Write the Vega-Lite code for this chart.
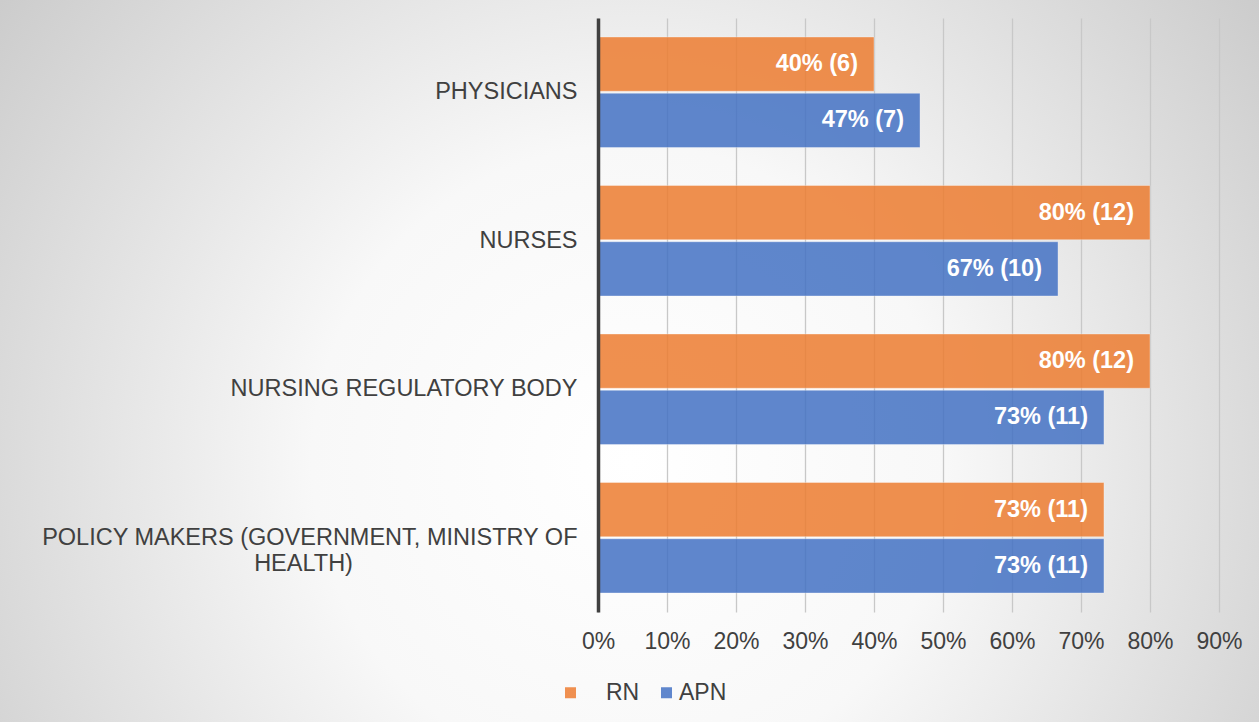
{
  "$schema": "https://vega.github.io/schema/vega-lite/v6.json",
  "width": 1259,
  "height": 722,
  "autosize": {"type": "none"},
  "padding": 0,
  "background": "#e4e4e4",
  "config": {
    "font": "Liberation Sans",
    "view": {
      "stroke": null,
      "fill": {
        "gradient": "radial",
        "x1": 0.5, "y1": 0.58, "r1": 0,
        "x2": 0.5, "y2": 0.58, "r2": 0.72,
        "stops": [
          {"offset": 0, "color": "#ffffff"},
          {"offset": 0.35, "color": "#f8f8f8"},
          {"offset": 1, "color": "#c0c0c0"}
        ]
      }
    }
  },
  "data": {
    "values": [
      {"group": "PHYSICIANS", "series": "RN", "pct": 0.4, "n": 6, "label": "40% (6)"},
      {"group": "PHYSICIANS", "series": "APN", "pct": 0.4667, "n": 7, "label": "47% (7)"},
      {"group": "NURSES", "series": "RN", "pct": 0.8, "n": 12, "label": "80% (12)"},
      {"group": "NURSES", "series": "APN", "pct": 0.6667, "n": 10, "label": "67% (10)"},
      {"group": "NURSING REGULATORY BODY", "series": "RN", "pct": 0.8, "n": 12, "label": "80% (12)"},
      {"group": "NURSING REGULATORY BODY", "series": "APN", "pct": 0.7333, "n": 11, "label": "73% (11)"},
      {"group": "POLICY MAKERS (GOVERNMENT, MINISTRY OF HEALTH)", "series": "RN", "pct": 0.7333, "n": 11, "label": "73% (11)"},
      {"group": "POLICY MAKERS (GOVERNMENT, MINISTRY OF HEALTH)", "series": "APN", "pct": 0.7333, "n": 11, "label": "73% (11)"}
    ]
  },
  "encoding": {
    "y": {
      "field": "group",
      "type": "nominal",
      "sort": null,
      "scale": {"range": [18, 612], "paddingInner": 0.256, "paddingOuter": 0.128},
      "axis": {
        "orient": "left",
        "offset": -598,
        "title": null,
        "grid": false,
        "domain": true,
        "domainColor": "#404040",
        "domainWidth": 3.5,
        "ticks": false,
        "tickSize": 0,
        "labelPadding": 21,
        "labelFontSize": 23.5,
        "labelColor": "#404040",
        "labelLimit": 700,
        "labelLineHeight": 26,
        "labelAlign": "right",
        "zindex": 1,
        "labelExpr": "datum.value == 'POLICY MAKERS (GOVERNMENT, MINISTRY OF HEALTH)' ? ['POLICY MAKERS (GOVERNMENT, MINISTRY OF', 'HEALTH)\u2003\u2003\u2003\u2003\u2003\u2003\u2003\u2003\u2003\u00a0\u00a0\u200b'] : datum.value"
      }
    },
    "yOffset": {
      "field": "series",
      "type": "nominal",
      "scale": {"domain": ["RN", "APN"], "paddingInner": 0.036}
    },
    "x": {
      "field": "pct",
      "type": "quantitative",
      "scale": {"domain": [0, 0.9], "range": [598, 1219], "nice": false, "zero": true},
      "axis": {
        "orient": "top",
        "offset": 0,
        "title": null,
        "grid": true,
        "gridColor": "#c8c8c8",
        "gridWidth": 1.3,
        "domain": false,
        "ticks": false,
        "tickSize": 0,
        "labelPadding": -630,
        "labelBaseline": "top",
        "values": [0, 0.1, 0.2, 0.3, 0.4, 0.5, 0.6, 0.7, 0.8, 0.9],
        "format": ".0%",
        "labelFontSize": 23,
        "labelColor": "#404040",
        "labelFlush": false,
        "labelOverlap": false
      }
    }
  },
  "layer": [
    {
      "mark": {"type": "bar", "opacity": 0.85, "stroke": "#ffffff", "strokeOpacity": 0.35, "strokeWidth": 1},
      "encoding": {
        "color": {
          "field": "series",
          "type": "nominal",
          "scale": {"domain": ["RN", "APN"], "range": ["#ED7D31", "#4472C4"]},
          "legend": {
            "orient": "none",
            "legendX": 559,
            "legendY": 681,
            "direction": "horizontal",
            "title": null,
            "symbolType": "square",
            "symbolSize": 121,
            "symbolStrokeWidth": 0,
            "symbolOpacity": 0.85,
            "labelFontSize": 23,
            "labelColor": "#404040",
            "columnPadding": 15,
            "labelOffset": 1,
            "labelExpr": "datum.label == 'RN' ? '\u200b\u2003RN' : datum.label"
          }
        }
      }
    },
    {
      "mark": {"type": "text", "align": "right", "baseline": "middle", "dx": -16, "color": "#ffffff", "fontWeight": "bold", "fontSize": 23.5},
      "encoding": {
        "text": {"field": "label", "type": "nominal"}
      }
    }
  ]
}
